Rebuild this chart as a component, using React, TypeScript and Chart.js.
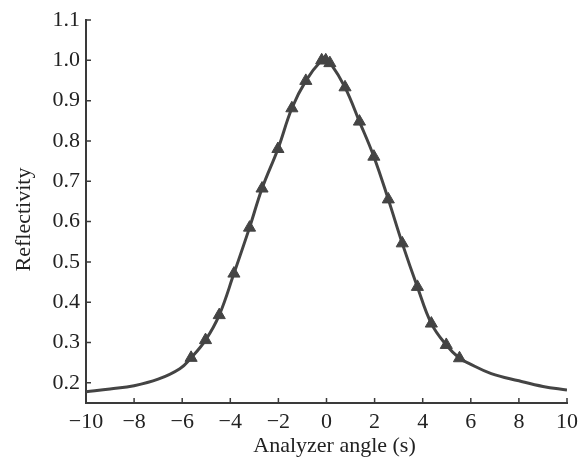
import React, { useEffect, useRef } from "react";
import { Chart, registerables } from "chart.js";

Chart.register(...registerables);

// Curve (solid line) sample points: x = analyzer angle (s), y = reflectivity
const curveX = [-10, -9, -8, -7, -6.1, -5.63, -5.03, -4.46, -3.85, -3.2, -2.68, -2.02, -1.44, -0.86, -0.2, -0.03, 0.14, 0.77, 1.37, 1.97, 2.57, 3.15, 3.78, 4.36, 4.98, 5.53, 5.9, 6.85, 8, 9, 10];
const curveY = [0.178, 0.185, 0.193, 0.209, 0.235, 0.262, 0.306, 0.368, 0.471, 0.585, 0.682, 0.78, 0.881, 0.949, 1.0, 1.0, 0.995, 0.933, 0.848, 0.761, 0.655, 0.546, 0.438, 0.347, 0.294, 0.261, 0.249, 0.223, 0.205, 0.191, 0.182];

// Triangle markers
const markerX = [-5.63, -5.03, -4.46, -3.85, -3.2, -2.68, -2.02, -1.44, -0.86, -0.2, -0.03, 0.14, 0.77, 1.37, 1.97, 2.57, 3.15, 3.78, 4.36, 4.98, 5.53];
const markerY = [0.262, 0.306, 0.368, 0.471, 0.585, 0.682, 0.78, 0.881, 0.949, 1.0, 1.0, 0.993, 0.933, 0.848, 0.761, 0.655, 0.546, 0.438, 0.347, 0.294, 0.261];

const xTicks = [-10, -8, -6, -4, -2, 0, 2, 4, 6, 8, 10];
const yTicks = [0.2, 0.3, 0.4, 0.5, 0.6, 0.7, 0.8, 0.9, 1.0, 1.1];

const xTitle = "Analyzer angle (s)";
const yTitle = "Reflectivity";

const FONT = "'Liberation Serif', 'Times New Roman', serif";
const INK = "#3a3a3a";

export default function App() {
  const ref = useRef<HTMLCanvasElement | null>(null);

  useEffect(() => {
    if (!ref.current) return;

    const tickPlugin = {
      id: "inwardTicksAndTitles",
      afterDraw(chart: any) {
        const { ctx, chartArea } = chart;
        const xs = chart.scales.x;
        const ys = chart.scales.y;
        ctx.save();
        ctx.strokeStyle = INK;
        ctx.lineWidth = 1.5;
        ctx.beginPath();
        xTicks.forEach((v) => {
          const px = xs.getPixelForValue(v);
          ctx.moveTo(px, chartArea.bottom);
          ctx.lineTo(px, chartArea.bottom - 5);
        });
        yTicks.forEach((v) => {
          const py = ys.getPixelForValue(v);
          ctx.moveTo(chartArea.left, py);
          ctx.lineTo(chartArea.left + 5, py);
        });
        ctx.stroke();

        ctx.fillStyle = "#222";
        ctx.font = `22px ${FONT}`;
        ctx.textAlign = "center";
        ctx.textBaseline = "middle";
        ctx.fillText(xTitle, (chartArea.left + chartArea.right) / 2 + 8, 446);
        ctx.translate(24, (chartArea.top + chartArea.bottom) / 2 + 8);
        ctx.rotate(-Math.PI / 2);
        ctx.fillText(yTitle, 0, 0);
        ctx.restore();
      },
    };

    const chart = new Chart(ref.current, {
      type: "scatter",
      data: {
        datasets: [
          {
            label: "curve",
            data: curveX.map((x, i) => ({ x, y: curveY[i] })),
            showLine: true,
            borderColor: "#444",
            borderWidth: 3,
            pointRadius: 0,
            tension: 0.4,
            order: 2,
          },
          {
            label: "markers",
            data: markerX.map((x, i) => ({ x, y: markerY[i] })),
            showLine: false,
            pointStyle: "triangle",
            pointRadius: 7,
            backgroundColor: "#444",
            borderColor: "#444",
            borderWidth: 1,
            order: 1,
          },
        ],
      },
      options: {
        animation: false,
        responsive: false,
        maintainAspectRatio: false,
        layout: { padding: { top: 20, right: 15, left: 0, bottom: 0 } },
        plugins: {
          legend: { display: false },
          tooltip: { enabled: false },
        },
        scales: {
          x: {
            type: "linear",
            min: -10,
            max: 10,
            afterBuildTicks: (s: any) => {
              s.ticks = xTicks.map((v) => ({ value: v }));
            },
            afterFit: (s: any) => {
              s.height = 56;
            },
            grid: { display: false, drawTicks: false },
            border: { display: true, color: INK, width: 2 },
            ticks: {
              padding: 6,
              color: "#222",
              font: { family: FONT, size: 22 },
              maxRotation: 0,
              autoSkip: false,
              callback: (v: any) => (Number(v) < 0 ? "\u2212" + Math.abs(Number(v)) : String(v)),
            },
          },
          y: {
            type: "linear",
            min: 0.15,
            max: 1.1,
            afterBuildTicks: (s: any) => {
              s.ticks = yTicks.map((v) => ({ value: v }));
            },
            afterFit: (s: any) => {
              s.width = 86;
            },
            grid: { display: false, drawTicks: false },
            border: { display: true, color: INK, width: 2 },
            ticks: {
              padding: 6,
              color: "#222",
              font: { family: FONT, size: 22 },
              autoSkip: false,
              callback: (v: any) => Number(v).toFixed(1),
            },
          },
        },
      },
      plugins: [tickPlugin],
    } as any);

    return () => chart.destroy();
  }, []);

  return (
    <div style={{ position: "fixed", left: 0, top: 0, width: 584, height: 459, background: "#fff" }}>
      <canvas ref={ref} width={584} height={459} style={{ width: 584, height: 459, display: "block" }} />
    </div>
  );
}
